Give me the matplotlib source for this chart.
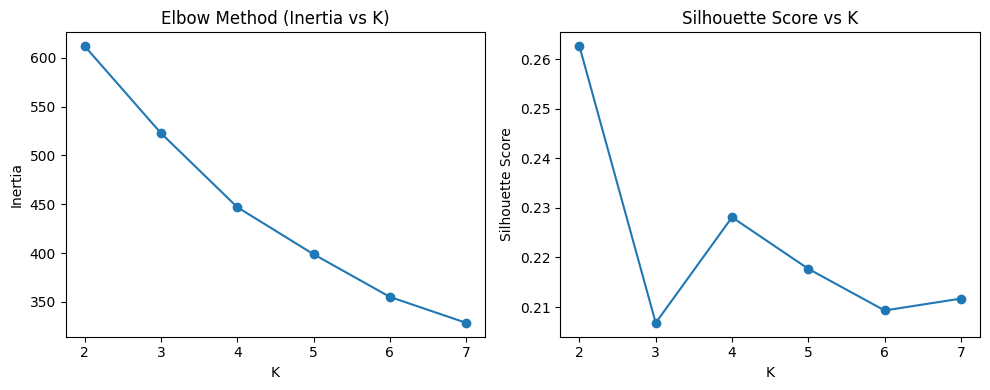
import matplotlib
matplotlib.use('Agg')
import matplotlib.pyplot as plt

# K values tested
k_values = [2, 3, 4, 5, 6, 7]

# Inertia per K (elbow method)
inertia = [612.0, 522.8, 447.0, 398.8, 355.1, 328.5]

# Silhouette score per K
silhouette = [0.2626, 0.2068, 0.2281, 0.2177, 0.2093, 0.2117]

plt.figure(figsize=(10, 4), dpi=100)

# Elbow plot
plt.subplot(1, 2, 1)
plt.plot(k_values, inertia, marker='o')
plt.title('Elbow Method (Inertia vs K)')
plt.xlabel('K')
plt.ylabel('Inertia')

# Silhouette plot
plt.subplot(1, 2, 2)
plt.plot(k_values, silhouette, marker='o')
plt.title('Silhouette Score vs K')
plt.xlabel('K')
plt.ylabel('Silhouette Score')

plt.tight_layout()
plt.savefig('out.png', dpi=100, bbox_inches='tight')
plt.close()
